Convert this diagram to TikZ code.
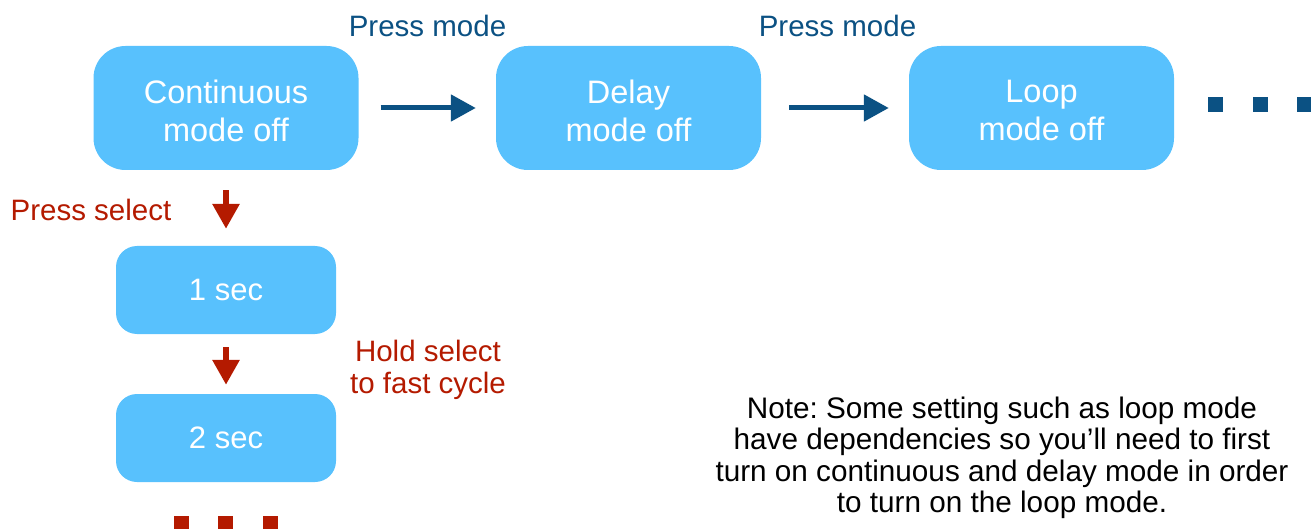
\documentclass[tikz,border=0pt]{standalone}
\usepackage{fontspec}
\setmainfont{Liberation Sans}
\usetikzlibrary{arrows.meta}
\definecolor{boxblue}{HTML}{58C1FD}
\definecolor{dblue}{HTML}{0B5183}
\definecolor{dred}{HTML}{B41A00}
\frenchspacing
\begin{document}
\begin{tikzpicture}[x=1pt,y=-1pt,
  bigbox/.style={fill=boxblue, draw=none, rounded corners=32pt, minimum width=265pt, minimum height=124pt, inner sep=0pt},
  boxtext/.style={text=white, align=center, font=\fontsize{32.5}{38}\selectfont, inner sep=0pt, yshift=-2.5pt},
  smallbox/.style={fill=boxblue, draw=none, rounded corners=21pt, minimum width=220pt, minimum height=88pt, text=white, align=center, font=\fontsize{31}{37}\selectfont, inner sep=0pt},
  lab/.style={font=\fontsize{29.5}{32}\selectfont, inner sep=0pt, align=center},
  barrow/.style={draw=dblue, line width=5pt, -{Triangle[length=25pt,width=26pt]}},
  rarrow/.style={draw=dred, line width=6pt, -{Triangle[length=25pt,width=26pt]}},
  sq/.style={inner sep=0pt, minimum size=15pt, draw=none}
]
\useasboundingbox (0,0) rectangle (1311,529);
\node[bigbox, label={[boxtext]center:{Continuous\\mode off}}] (cont) at (226,108) {};
\node[bigbox, label={[boxtext]center:{Delay\\mode off}}] (delay) at (628.5,108) {};
\node[bigbox, label={[boxtext]center:{Loop\\mode off}}] (loop) at (1041.5,108) {};
\node[smallbox] (s1) at (226,290) {1 sec};
\node[smallbox] (s2) at (226,438) {2 sec};

\draw[barrow] ([xshift=22pt]cont.east) -- ([xshift=-20pt]delay.west);
\draw[barrow] ([xshift=28pt]delay.east) -- ([xshift=-20pt]loop.west);
\draw[rarrow] ([yshift=-20pt]cont.south) -- ([yshift=17pt]s1.north);
\draw[rarrow] ([yshift=-13pt]s1.south) -- ([yshift=9pt]s2.north);

\node[lab, text=dblue, anchor=base] (pm1) at (427.5,37) {Press mode};
\node[lab, text=dblue, anchor=base] (pm2) at (837.5,37) {Press mode};
\node[lab, text=dred, anchor=base] (ps) at (91,221) {Press select};
\node[lab, text=dred] (hs) at (428,370) {Hold select\\to fast cycle};
\node[lab, text=black, font=\fontsize{29.7}{31.5}\selectfont] (note) at (1002,458)
  {Note: Some setting such as loop mode\\have dependencies so you’ll need to first\\turn on continuous and delay mode in order\\to turn on the loop mode.};

\node[sq, fill=dblue] (d1) at (1215.5,104.5) {};
\node[sq, fill=dblue] (d2) at (1260.5,104.5) {};
\node[sq, fill=dblue] (d3) at (1304.5,104.5) {};
\node[sq, fill=dred] (r1) at (181.5,523.5) {};
\node[sq, fill=dred] (r2) at (225.5,523.5) {};
\node[sq, fill=dred] (r3) at (270,523.5) {};
\end{tikzpicture}
\end{document}
